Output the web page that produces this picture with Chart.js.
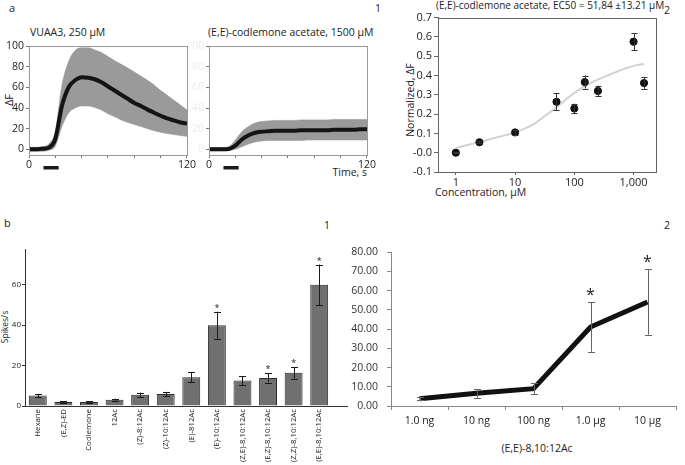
<!DOCTYPE html>
<html>
<head>
<meta charset="utf-8">
<script src="https://cdn.jsdelivr.net/npm/chart.js@4.4.1/dist/chart.umd.min.js"></script>
<style>
  body { margin: 0; background: #fff; width: 685px; height: 465px; position: relative; overflow: hidden;
         font-family: 'Open Sans', sans-serif; color: #222; }
  canvas { position: absolute; }
  .t { position: absolute; white-space: nowrap; line-height: 1; transform: translateY(-50%); font-size: 10.5px; }
  .rot { position: absolute; white-space: nowrap; line-height: 1; transform: translate(-50%, -50%) rotate(-90deg); font-size: 10.5px; }
</style>
</head>
<body>
<div class="t" style="left:9px;top:7px;font-size:11px">a</div>
<div class="t" style="left:30px;top:32px">VUAA3, 250 µM</div>
<div class="t" style="left:208px;top:32px">(E,E)-codlemone acetate, 1500 µM</div>
<div class="t" style="right:318px;top:172px">Time, s</div>
<div class="t" style="left:375px;top:8px">1</div>
<div class="rot" style="left:8px;top:100px;font-size:11px">ΔF</div>
<div class="t" style="left:436px;top:5px;font-size:10px">(E,E)-codlemone acetate, EC50 = 51,84 ±13.21 µM</div>
<div class="t" style="left:664px;top:10px">2</div>
<div class="rot" style="left:410px;top:100px">Normalized, ΔF</div>
<div class="t" style="left:435px;top:192px">Concentration, µM</div>
<div class="t" style="left:4px;top:222px;font-size:11px">b</div>
<div class="t" style="left:324px;top:225px">1</div>
<div class="t" style="left:664px;top:225px">2</div>
<div class="rot" style="left:5px;top:327px;font-size:8.5px">Spikes/s</div>
<div class="t" style="left:537px;top:448px;transform:translate(-50%,-50%)">(E,E)-8,10:12Ac</div>

<canvas id="a1" width="195" height="137" style="left:2px;top:38px"></canvas>
<canvas id="a2" width="187" height="137" style="left:190px;top:38px"></canvas>
<canvas id="a3" width="253" height="181" style="left:411px;top:9px"></canvas>
<canvas id="b1" width="350" height="222" style="left:0px;top:244px"></canvas>
<canvas id="b2" width="332" height="199" style="left:350px;top:237px"></canvas>

<script>
// ---- panel a1/a2: calcium traces (mean and SEM band), every 5 s
const timeS = [0, 5, 10, 15, 20, 25, 30, 35, 40, 45, 50, 55, 60, 65, 70, 75, 80, 85, 90, 95, 100, 105, 110, 115, 120];
const timeTicks = [0, 120];
const dfTicks = [0, 20, 40, 60, 80, 100];
const stimOn = 11;
const stimOff = 22.5;

const vuaaMean  = [0, 0, 0.5, 1.5, 10, 42, 60, 67, 70, 69.5, 68, 65, 61, 57, 53, 49, 45, 42, 38.5, 35.5, 32.5, 30, 28, 26, 25];
const vuaaUpper = [2, 2, 2.5, 5, 18, 62, 85, 96, 98.5, 98.5, 96.5, 94, 90, 86, 82.5, 79, 75, 71, 67, 62.5, 57, 52.5, 47.5, 43, 38];
const vuaaLower = [-2, -2, -2, -1, 3, 22, 35, 40, 42, 42, 40.5, 38, 34.5, 31.5, 28.5, 26, 24, 22, 20, 18, 16.5, 15.3, 14.2, 13.3, 12.5];

const codMean  = [0, 0, 0, 0.3, 3.5, 9.5, 13.5, 16, 17, 17.5, 18, 18, 18, 18, 18.5, 18.5, 18.5, 18.5, 18.5, 19, 19, 19, 19, 19.5, 19.5];
const codUpper = [1.5, 1.5, 1.5, 2.5, 9, 17, 22, 25.5, 27, 27.5, 28, 28, 28, 28, 28.5, 28.5, 28.5, 28.5, 28.5, 29, 29, 29, 29, 29, 29];
const codLower = [-1.5, -1.5, -1.5, -1, 0, 2.5, 5, 7, 8, 8.5, 8.5, 8.5, 8.5, 8.5, 8.5, 9, 9, 9, 9, 9, 9, 9, 9, 9, 9];

// ---- panel a3: dose response
const concVals = [1, 2.5, 10, 50, 100, 150, 250, 1000, 1500];
const respVals = [0.0, 0.054, 0.105, 0.264, 0.229, 0.366, 0.32, 0.575, 0.361];
const respErr  = [0.004, 0.006, 0.012, 0.045, 0.025, 0.034, 0.028, 0.045, 0.03];
const fitConc  = [1, 2.5, 5, 10, 20, 30, 50, 100, 200, 400, 700, 1000, 1500];
const fitResp  = [0.025, 0.055, 0.08, 0.105, 0.145, 0.185, 0.235, 0.31, 0.365, 0.405, 0.435, 0.45, 0.46];
const concTicks = [1, 10, 100, 1000];

// ---- panel b1: spike rates per compound
const compounds = ['Hexane', '(E,Z)-ED', 'Codlemone', '12Ac', '(Z)-8:12Ac', '(Z)-10:12Ac', '(E)-812Ac',
  '(E)-10:12Ac', '(Z,E)-8,10:12Ac', '(E,Z)-8,10:12Ac', '(Z,Z)-8,10:12Ac', '(E,E)-8,10:12Ac'];
const spikes    = [5.2, 2.0, 2.0, 3.1, 5.6, 5.9, 14.2, 40, 12.6, 13.9, 16.4, 60];
const spikesErr = [0.8, 0.3, 0.3, 0.5, 1.0, 1.1, 2.5, 6.7, 2.2, 2.3, 2.8, 10];
const spikesSig = [false, false, false, false, false, false, false, true, false, true, true, true];
const spikeTicks = [0, 20, 40, 60];

// ---- panel b2: dose series of (E,E)-8,10:12Ac
const doses    = ['1.0 ng', '10 ng', '100 ng', '1.0 µg', '10 µg'];
const doseResp = [3.8, 6.6, 9.0, 41.1, 54.1];
const doseErr  = [0.8, 2.2, 2.8, 12.9, 17];
const doseSig  = [false, false, false, true, true];

const FONT = 'Open Sans';

// error bars (+ optional significance stars) from dataset.errors
const errorBars = {
  id: 'errorBars',
  afterDatasetsDraw(chart) {
    const ctx = chart.ctx;
    const y = chart.scales.y;
    chart.data.datasets.forEach((ds, di) => {
      if (!ds.errors) return;
      const meta = chart.getDatasetMeta(di);
      ctx.save();
      ctx.strokeStyle = ds.errColor || '#333';
      ctx.fillStyle = '#222';
      ctx.lineWidth = 1;
      meta.data.forEach((el, i) => {
        const d = ds.data[i];
        const v = typeof d === 'object' ? d.y : d;
        const e = ds.errors[i];
        const top = y.getPixelForValue(v + e);
        const bot = y.getPixelForValue(v - e);
        const x = Math.round(el.x) + 0.5;
        const c = ds.errCap || 3;
        ctx.beginPath();
        ctx.moveTo(x, top); ctx.lineTo(x, bot);
        ctx.moveTo(x - c, Math.round(top) + 0.5); ctx.lineTo(x + c, Math.round(top) + 0.5);
        ctx.moveTo(x - c, Math.round(bot) + 0.5); ctx.lineTo(x + c, Math.round(bot) + 0.5);
        ctx.stroke();
        if (ds.stars && ds.stars[i]) {
          ctx.font = ds.starFont;
          ctx.textAlign = 'center';
          ctx.textBaseline = 'alphabetic';
          ctx.fillText('*', el.x, top - ds.starGap);
        }
      });
      ctx.restore();
    });
  }
};

// box around plot area
const frame = {
  id: 'frame',
  afterDraw(chart, args, o) {
    if (!o.color) return;
    const a = chart.chartArea;
    const ctx = chart.ctx;
    ctx.save();
    ctx.strokeStyle = o.color;
    ctx.lineWidth = 1;
    ctx.strokeRect(Math.round(a.left) + 0.5, Math.round(a.top) + 0.5, Math.round(a.right - a.left), Math.round(a.bottom - a.top));
    ctx.restore();
  }
};

// stimulus bar under the time axis
const stim = {
  id: 'stim',
  afterDraw(chart, args, o) {
    if (o.from === undefined) return;
    const x = chart.scales.x;
    const ctx = chart.ctx;
    const x0 = x.getPixelForValue(o.from);
    ctx.save();
    ctx.fillStyle = '#1a1a1a';
    ctx.fillRect(x0, chart.chartArea.bottom + o.offset, x.getPixelForValue(o.to) - x0, 3.5);
    ctx.restore();
  }
};

// x axis line running past the last bar
const axisExt = {
  id: 'axisExt',
  afterDraw(chart, args, o) {
    if (!o.length) return;
    const a = chart.chartArea;
    const ctx = chart.ctx;
    ctx.save();
    ctx.strokeStyle = o.color;
    ctx.lineWidth = 1;
    ctx.beginPath();
    ctx.moveTo(a.right, Math.round(a.bottom) + 0.5);
    ctx.lineTo(a.right + o.length, Math.round(a.bottom) + 0.5);
    ctx.stroke();
    ctx.restore();
  }
};

Chart.register(errorBars, frame, stim, axisExt);

function traceChart(id, mean, upper, lower, labelColor, yW) {
  const pts = arr => timeS.map((t, i) => ({ x: t, y: arr[i] }));
  return new Chart(document.getElementById(id), {
    type: 'line',
    data: {
      datasets: [
        { data: pts(mean), borderColor: '#141414', borderWidth: 4, pointRadius: 0, cubicInterpolationMode: 'monotone', order: 0 },
        { data: pts(upper), borderColor: '#8d8d8d', borderWidth: 0.5, backgroundColor: '#9a9a9a', fill: '+1', pointRadius: 0, cubicInterpolationMode: 'monotone', order: 1 },
        { data: pts(lower), borderColor: '#8d8d8d', borderWidth: 0.5, pointRadius: 0, cubicInterpolationMode: 'monotone', order: 2 }
      ]
    },
    options: {
      responsive: false,
      animation: false,
      layout: { padding: { top: 4, right: 10, left: 0, bottom: 0 } },
      plugins: {
        legend: { display: false },
        tooltip: { enabled: false },
        frame: { color: '#9a9a9a' },
        stim: { from: stimOn, to: stimOff, offset: 11 }
      },
      scales: {
        x: {
          type: 'linear', min: 0, max: 120,
          ticks: { stepSize: 20, autoSkip: false, maxRotation: 0, padding: 1, color: '#222',
                   font: { family: FONT, size: 10.5 },
                   callback: v => timeTicks.includes(v) ? v : '' },
          grid: { drawOnChartArea: false, tickLength: 3, color: '#777' },
          border: { color: '#777' },
          afterFit: s => { s.height = 20; }
        },
        y: {
          min: -5.6, max: 100,
          afterBuildTicks: s => { s.ticks = dfTicks.map(v => ({ value: v })); },
          ticks: { padding: 2, color: labelColor, font: { family: FONT, size: 10.5 } },
          grid: { drawOnChartArea: false, tickLength: 3, color: '#777' },
          border: { color: '#777' },
          afterFit: s => { s.width = yW; }
        }
      }
    }
  });
}

traceChart('a1', vuaaMean, vuaaUpper, vuaaLower, '#222', 27);
traceChart('a2', codMean, codUpper, codLower, '#ececec', 19);

new Chart(document.getElementById('a3'), {
  type: 'scatter',
  data: {
    datasets: [
      { data: concVals.map((c, i) => ({ x: c, y: respVals[i] })), pointRadius: 3.6, pointBackgroundColor: '#111',
        pointBorderColor: '#111', errors: respErr, errColor: '#333', errCap: 3, order: 0 },
      { data: fitConc.map((c, i) => ({ x: c, y: fitResp[i] })), showLine: true, borderColor: '#d2d2d2',
        borderWidth: 2, pointRadius: 0, tension: 0.4, order: 1 }
    ]
  },
  options: {
    responsive: false,
    animation: false,
    layout: { padding: { top: 4, right: 8, left: 0, bottom: 0 } },
    plugins: { legend: { display: false }, tooltip: { enabled: false }, frame: { color: '#666' } },
    scales: {
      x: {
        type: 'logarithmic', min: 0.5, max: 2390,
        afterBuildTicks: s => { s.ticks = concTicks.map(v => ({ value: v })); },
        ticks: { padding: 1, maxRotation: 0, color: '#222', font: { family: FONT, size: 11 },
                 callback: v => v.toLocaleString('en-US') },
        grid: { drawOnChartArea: false, tickLength: 3, color: '#666' },
        border: { color: '#666' },
        afterFit: s => { s.height = 18; }
      },
      y: {
        min: -0.1, max: 0.7,
        ticks: { stepSize: 0.1, padding: 2, color: '#222', font: { family: FONT, size: 11 },
                 callback: v => v.toFixed(1) },
        grid: { drawOnChartArea: false, tickLength: 4, color: '#666' },
        border: { color: '#666' },
        afterFit: s => { s.width = 27; }
      }
    }
  }
});

new Chart(document.getElementById('b1'), {
  type: 'bar',
  data: {
    labels: compounds,
    datasets: [{
      data: spikes, backgroundColor: '#707070', borderColor: '#2b2b2b', borderWidth: 1,
      categoryPercentage: 1, barPercentage: 0.7,
      errors: spikesErr, errColor: '#1a1a1a', errCap: 3.5, stars: spikesSig, starFont: `9px ${FONT}`, starGap: 1
    }]
  },
  options: {
    responsive: false,
    animation: false,
    layout: { padding: { top: 4, right: 18, left: 0, bottom: 0 } },
    plugins: { legend: { display: false }, tooltip: { enabled: false }, axisExt: { length: 16, color: '#333' } },
    scales: {
      x: {
        ticks: { autoSkip: false, minRotation: 90, maxRotation: 90, padding: -5, color: '#222',
                 font: { family: FONT, size: 7.8 } },
        grid: { display: false },
        border: { display: true, color: '#333' },
        afterFit: s => { s.height = 60; }
      },
      y: {
        min: 0, max: 77.3,
        afterBuildTicks: s => { s.ticks = spikeTicks.map(v => ({ value: v })); },
        ticks: { padding: 1, color: '#222', font: { family: FONT, size: 8 } },
        grid: { drawOnChartArea: false, tickLength: 3, color: '#333' },
        border: { color: '#333' },
        afterFit: s => { s.width = 25; }
      }
    }
  }
});

new Chart(document.getElementById('b2'), {
  type: 'line',
  data: {
    labels: doses,
    datasets: [{
      data: doseResp, borderColor: '#111', borderWidth: 5, pointRadius: 0, tension: 0,
      errors: doseErr, errColor: '#666', errCap: 3.5, stars: doseSig, starFont: `16px ${FONT}`, starGap: 2
    }]
  },
  options: {
    responsive: false,
    animation: false,
    layout: { padding: { top: 8, right: 6, left: 0, bottom: 0 } },
    plugins: { legend: { display: false }, tooltip: { enabled: false } },
    scales: {
      x: {
        offset: true,
        ticks: { padding: 5, maxRotation: 0, color: '#222', font: { family: FONT, size: 10.5 } },
        grid: { offset: true, drawOnChartArea: false, tickLength: 4, color: '#888' },
        border: { color: '#888' },
        afterFit: s => { s.height = 30; }
      },
      y: {
        min: 0, max: 80,
        ticks: { stepSize: 10, padding: 9, color: '#333', font: { family: FONT, size: 10.5 },
                 callback: v => v.toFixed(2) },
        grid: { drawOnChartArea: false, tickLength: 4, color: '#888' },
        border: { color: '#888' },
        afterFit: s => { s.width = 41; }
      }
    }
  }
});
</script>
</body>
</html>
